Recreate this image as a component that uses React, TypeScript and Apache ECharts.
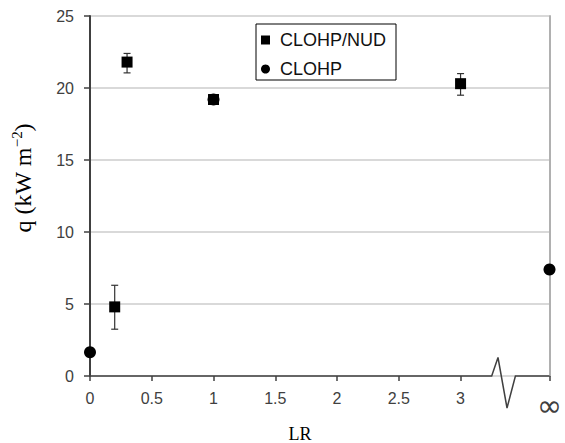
import React, { useEffect, useRef } from 'react';
import * as echarts from 'echarts';

// ---- data ----
const X_TICKS = [0, 0.5, 1, 1.5, 2, 2.5, 3];
const INF_X = 3.72; // axis position used for LR = ∞
const Y_MIN = 0;
const Y_MAX = 25;
const Y_STEP = 5;

const nudLR = [0.2, 0.3, 1, 3];
const nudQ = [4.8, 21.8, 19.2, 20.3];
const nudLow = [3.25, 21.05, 18.95, 19.5];
const nudHigh = [6.3, 22.4, 19.45, 21.0];

const clohpLR = [0, 1, INF_X];
const clohpQ = [1.65, 19.2, 7.4];

// x positions of the axis-break zigzag (start, peak, trough, end)
const BREAK_X = [3.252, 3.303, 3.376, 3.444];

const SERIES_NAMES = ['CLOHP/NUD', 'CLOHP'];

export default function App() {
  const ref = useRef<HTMLDivElement>(null);

  useEffect(() => {
    if (!ref.current) return;
    const chart = echarts.init(ref.current, null, { renderer: 'svg' });
    const axisColor = '#404040';
    const labelFont = 'Liberation Sans, Arial, sans-serif';
    const serif = 'Liberation Serif';

    const tickValues = [...X_TICKS, INF_X];

    const option: any = {
      animation: false,
      backgroundColor: '#fff',
      grid: { left: 90, right: 14, top: 16, bottom: 67, containLabel: false },
      legend: {
        data: [
          { name: SERIES_NAMES[0], icon: 'rect' },
          { name: SERIES_NAMES[1], icon: 'circle' },
        ],
        orient: 'vertical',
        left: 256,
        top: 24,
        padding: [7, 10, 2, 5],
        itemGap: 11,
        itemWidth: 9,
        itemHeight: 9,
        backgroundColor: '#fff',
        borderColor: '#000',
        borderWidth: 1,
        borderRadius: 0,
        itemStyle: { opacity: 1 },
        textStyle: { fontSize: 18, color: '#111', fontFamily: labelFont, lineHeight: 18, padding: [0, 0, 0, 5] },
      },
      xAxis: {
        type: 'value',
        min: 0,
        max: INF_X,
        axisLine: { show: false },
        splitLine: { show: false },
        axisTick: {
          show: true,
          customValues: tickValues,
          length: 5,
          lineStyle: { color: axisColor, width: 1.5 },
        },
        axisLabel: {
          customValues: tickValues,
          margin: 14,
          fontSize: 16,
          color: axisColor,
          fontFamily: labelFont,
          formatter: (v: number) => (Math.abs(v - INF_X) < 1e-9 ? '{inf|∞}' : String(v)),
          rich: {
            inf: { fontSize: 30, color: axisColor, fontFamily: 'DejaVu Sans, sans-serif', padding: [0, 0, 8, 0] },
          },
        },
      },
      yAxis: [
        {
          type: 'value',
          min: Y_MIN,
          max: Y_MAX,
          interval: Y_STEP,
          axisLine: { show: true, lineStyle: { color: axisColor, width: 2 } },
          axisTick: { show: true, length: 6, lineStyle: { color: axisColor, width: 1.5 } },
          axisLabel: { fontSize: 16, color: axisColor, fontFamily: labelFont, margin: 16 },
          splitLine: { show: true, lineStyle: { color: '#cccccc', width: 1.5 } },
        },
        {
          type: 'value',
          position: 'right',
          min: Y_MIN,
          max: Y_MAX,
          interval: Y_STEP,
          axisLine: { show: true, lineStyle: { color: '#b0b0b0', width: 2 } },
          axisTick: { show: false },
          axisLabel: { show: false },
          splitLine: { show: false },
        },
      ],
      series: [
        {
          type: 'custom',
          name: 'axis',
          silent: true,
          clip: false,
          z: 1,
          data: [[0, 0]],
          renderItem: (_p: any, api: any) => {
            const a = api.coord([0, 0]);
            const b0 = api.coord([BREAK_X[0], 0]);
            const b1 = api.coord([BREAK_X[1], 0]);
            const b2 = api.coord([BREAK_X[2], 0]);
            const b3 = api.coord([BREAK_X[3], 0]);
            const e = api.coord([INF_X, 0]);
            const y0 = a[1];
            return {
              type: 'polyline',
              shape: {
                points: [
                  [a[0], y0],
                  [b0[0], y0],
                  [b1[0], y0 - 18.5],
                  [b2[0], y0 + 32],
                  [b3[0], y0],
                  [e[0], y0],
                ],
              },
              style: { stroke: axisColor, lineWidth: 1.5, fill: 'none' },
            };
          },
        },
        {
          type: 'custom',
          name: 'err',
          silent: true,
          clip: false,
          z: 2,
          encode: { x: 0, y: [1, 2] },
          data: nudLR.map((x, i) => [x, nudLow[i], nudHigh[i]]),
          renderItem: (_p: any, api: any) => {
            const x = api.value(0);
            const lo = api.coord([x, api.value(1)]);
            const hi = api.coord([x, api.value(2)]);
            const w = 3.5;
            const st = { stroke: '#333', lineWidth: 1.2 };
            return {
              type: 'group',
              children: [
                { type: 'line', shape: { x1: lo[0], y1: lo[1], x2: hi[0], y2: hi[1] }, style: st },
                { type: 'line', shape: { x1: lo[0] - w, y1: lo[1], x2: lo[0] + w, y2: lo[1] }, style: st },
                { type: 'line', shape: { x1: hi[0] - w, y1: hi[1], x2: hi[0] + w, y2: hi[1] }, style: st },
              ],
            };
          },
        },
        {
          type: 'scatter',
          name: SERIES_NAMES[0],
          symbol: 'rect',
          symbolSize: 11,
          clip: false,
          z: 3,
          itemStyle: { color: '#000', opacity: 1 },
          data: nudLR.map((x, i) => [x, nudQ[i]]),
        },
        {
          type: 'scatter',
          name: SERIES_NAMES[1],
          symbol: 'circle',
          symbolSize: 12,
          clip: false,
          z: 3,
          itemStyle: { color: '#000', opacity: 1 },
          data: clohpLR.map((x, i) => [x, clohpQ[i]]),
        },
      ],
      graphic: [
        {
          type: 'text',
          x: 23,
          y: 178,
          rotation: Math.PI / 2,
          style: {
            text: '{a|q (kW m}{s|−2}{a|)}',
            align: 'center',
            verticalAlign: 'middle',
            fill: '#000',
            rich: {
              a: { fontSize: 24, fontFamily: serif, fill: '#000', color: '#000' },
              s: { fontSize: 15, fontFamily: serif, fill: '#000', color: '#000', padding: [0, 0, 12, 0] },
            },
          },
        },
        {
          type: 'text',
          x: 300,
          y: 434,
          style: {
            text: 'LR',
            align: 'center',
            verticalAlign: 'middle',
            fill: '#000',
            font: '18px ' + serif,
          },
        },
      ],
    };

    chart.setOption(option);
    return () => chart.dispose();
  }, []);

  return (
    <div
      ref={ref}
      style={{ position: 'absolute', left: 0, top: 0, width: 565, height: 443, background: '#fff' }}
    />
  );
}
